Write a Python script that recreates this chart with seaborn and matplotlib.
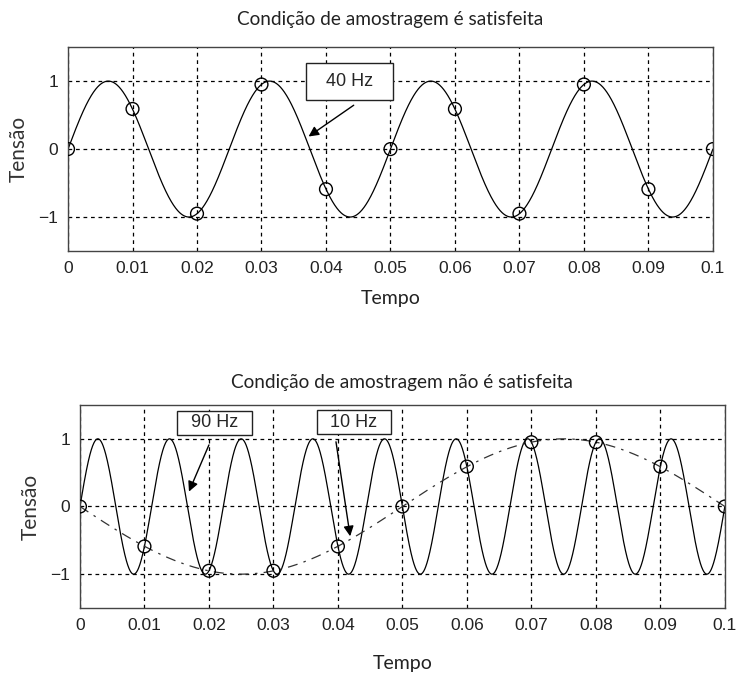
import numpy as np
import pandas as pd
import matplotlib
matplotlib.use("Agg")
import matplotlib.pyplot as plt
import seaborn as sns

# sample instants and the values read at the circles
sample_times = [0, 0.01, 0.02, 0.03, 0.04, 0.05, 0.06, 0.07, 0.08, 0.09, 0.1]
samples_top = [0, 0.59, -0.95, 0.95, -0.59, 0, 0.59, -0.95, 0.95, -0.59, 0]
samples_bottom = [0, -0.59, -0.95, -0.95, -0.59, 0, 0.59, 0.95, 0.95, 0.59, 0]

# signal frequencies shown in the labels (Hz)
freq_top = 40
freq_fast = 90
freq_alias = 10

x_ticks = [0, 0.01, 0.02, 0.03, 0.04, 0.05, 0.06, 0.07, 0.08, 0.09, 0.1]
x_ticklabels = ["0", "0.01", "0.02", "0.03", "0.04", "0.05", "0.06", "0.07", "0.08", "0.09", "0.1"]
y_ticks = [-1, 0, 1]
y_ticklabels = ["\u22121", "0", "1"]

title_top = "Condição de amostragem é satisfeita"
title_bottom = "Condição de amostragem não é satisfeita"

t = np.linspace(0, 0.1, 2001)
curve_top = pd.DataFrame({"t": t, "v": np.sin(2 * np.pi * freq_top * t)})
curve_fast = pd.DataFrame({"t": t, "v": np.sin(2 * np.pi * freq_fast * t)})
curve_alias = pd.DataFrame({"t": t, "v": -np.sin(2 * np.pi * freq_alias * t)})

sns.set_style("white")
plt.rcParams["font.family"] = ["Lato", "DejaVu Sans"]

fig = plt.figure(figsize=(7.37, 6.73), dpi=100)
ax1 = fig.add_axes([0.0923, 0.627, 0.875, 0.303])
ax2 = fig.add_axes([0.1085, 0.0966, 0.875, 0.3016])

arial = ["Liberation Sans", "DejaVu Sans"]
arrow = dict(arrowstyle="-|>", color="black", lw=1, mutation_scale=15,
             shrinkA=0, shrinkB=0)


def style_axes(ax, title, tpad, xpad):
    ax.set_xlim(0, 0.1)
    ax.set_ylim(-1.5, 1.5)
    ax.set_xticks(x_ticks, x_ticklabels)
    ax.set_yticks(y_ticks, y_ticklabels)
    ax.tick_params(length=0, pad=7, labelsize=12.5, labelcolor="#222222",
                   labelfontfamily="Liberation Sans")
    ax.grid(True, color="black", linestyle=(0, (3, 3)), linewidth=0.9)
    for s in ax.spines.values():
        s.set_color("#444444")
        s.set_linewidth(1)
    ax.set_title(title, fontsize=13.7, pad=tpad, color="#222222")
    ax.set_xlabel("Tempo", fontsize=14, labelpad=xpad, color="#222222")
    ax.set_ylabel("Tensão", fontsize=15, labelpad=7, color="#333333")


def label_box(ax, text, xy, pad):
    ax.text(xy[0], xy[1], "  " + text + "  ", ha="center", va="center", size=13,
            family=arial, zorder=6,
            bbox=dict(boxstyle=f"square,pad={pad}", fc="white", ec="#222222", lw=1))


# top: 40 Hz sampled correctly
sns.lineplot(data=curve_top, x="t", y="v", ax=ax1, color="black", lw=0.9)
sns.scatterplot(x=sample_times, y=samples_top, ax=ax1, s=85, marker="o",
                facecolor="none", edgecolor="black", linewidth=1, zorder=5)
style_axes(ax1, title_top, 16, 10)
label_box(ax1, "40 Hz", (0.0436, 1.0), 0.55)
ax1.annotate("", xy=(0.0373, 0.185), xytext=(0.0443, 0.645), arrowprops=arrow)

# bottom: 90 Hz aliased to 10 Hz
sns.lineplot(data=curve_fast, x="t", y="v", ax=ax2, color="black", lw=0.9)
sns.lineplot(data=curve_alias, x="t", y="v", ax=ax2, color="#333333", lw=0.9,
             linestyle=(0, (8, 5, 2, 5)))
sns.scatterplot(x=sample_times, y=samples_bottom, ax=ax2, s=85, marker="o",
                facecolor="none", edgecolor="black", linewidth=1, zorder=5)
style_axes(ax2, title_bottom, 12, 16)
label_box(ax2, "90 Hz", (0.02085, 1.235), 0.2)
label_box(ax2, "10 Hz", (0.0425, 1.245), 0.2)
ax2.annotate("", xy=(0.0169, 0.22), xytext=(0.0200, 0.91), arrowprops=arrow)
ax2.annotate("", xy=(0.0419, -0.44), xytext=(0.0397, 0.956), arrowprops=arrow)

fig.savefig("out.png", dpi=100)
